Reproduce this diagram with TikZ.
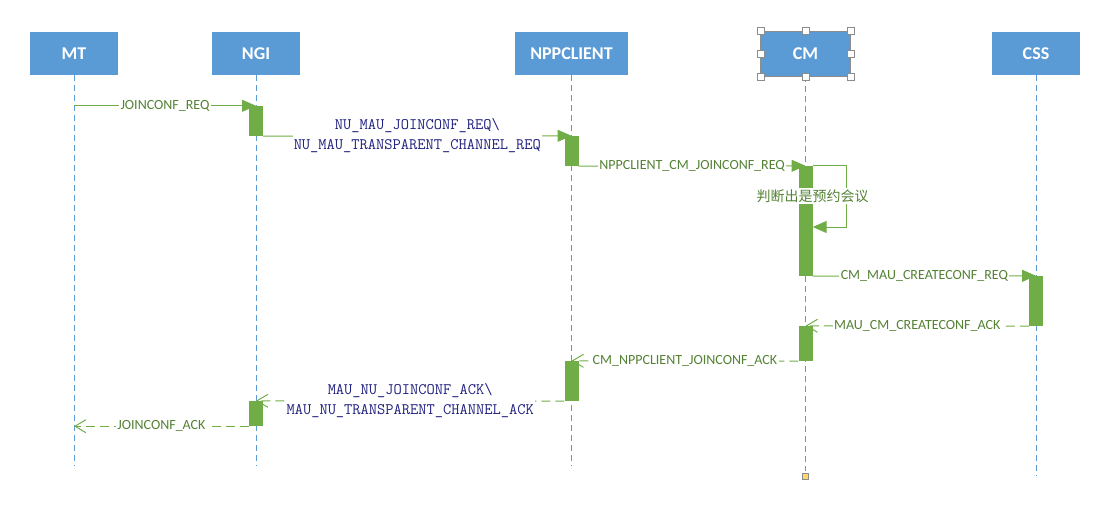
\documentclass[tikz,border=0pt]{standalone}
\usepackage{fontspec}
\setmainfont{Carlito}
\newfontfamily\cjkfont{Noto Sans CJK SC}
\usetikzlibrary{arrows.meta}

\definecolor{boxblue}{RGB}{91,155,213}
\definecolor{msggreen}{RGB}{112,173,71}
\definecolor{txtgreen}{RGB}{84,130,53}
\definecolor{codeblue}{RGB}{32,32,128}
\definecolor{handlegray}{RGB}{140,140,140}
\definecolor{markyellow}{RGB}{255,217,102}

\begin{document}
\begin{tikzpicture}[x=1pt,y=-1pt]
      \tikzset { actor/.style = { shape=rectangle,fill=boxblue,text=white,font=\fontsize{18}{21}\selectfont\bfseries,minimum width=88pt,minimum height=43pt,inner sep=0pt } }
      \tikzset { lifeline/.style = { boxblue,line width=0.8pt,dash pattern=on 6pt off 4pt } }
      \tikzset { bar/.style = { fill=msggreen,minimum width=14pt,inner sep=0pt } }
      \tikzset { call/.style = { msggreen,line width=1pt,-{Triangle[length=14pt,width=12pt]} } }
      \tikzset { reply/.style = { msggreen,line width=1pt,dash pattern=on 9pt off 5pt,-{Straight Barb[length=11pt,width=13pt]} } }
      \tikzset { lbl/.style = { fill=white,text=txtgreen,inner sep=1.5pt,font=\fontsize{14}{16}\selectfont } }
      \tikzset { code/.style = { fill=white,text=codeblue,inner sep=1pt,align=center,font=\ttfamily\fontsize{16}{20}\selectfont } }
      \tikzset { handle/.style = { draw=handlegray,fill=white,minimum size=7pt,inner sep=0pt } }

      \useasboundingbox (0,0) rectangle (1113,522);

      % participants
      \node[actor] (mt) at (74,53.5) {MT};
      \node[actor] (ngi) at (256,53.5) {NGI};
      \node[actor,minimum width=113pt] (npp) at (571.5,53.5) {NPPCLIENT};
      \node[actor,draw=handlegray,minimum width=90pt,minimum height=45pt] (cm) at (805.5,53.5) {CM};
      \node[actor] (css) at (1036,53.5) {CSS};

      % lifelines
      \coordinate (mt end) at (74,466);
      \coordinate (ngi end) at (256,466);
      \coordinate (npp end) at (571.5,466);
      \coordinate (cm end) at (805.5,471);
      \coordinate (css end) at (1036,476);
      \draw[lifeline] (mt) -- (mt end);
      \draw[lifeline] (ngi) -- (ngi end);
      \draw[lifeline] (npp) -- (npp end);
      \draw[lifeline] (cm) -- (cm end);
      \draw[lifeline] (css) -- (css end);

      % activations
      \node[bar,minimum height=30pt] (ngi1) at (256,121) {};
      \node[bar,minimum height=30pt] (npp1) at (571.5,151) {};
      \node[bar,minimum height=110pt] (cm1) at (805.5,221) {};
      \node[bar,minimum height=50pt] (css1) at (1036,301) {};
      \node[bar,minimum height=35pt] (cm2) at (805.5,343.5) {};
      \node[bar,minimum height=40pt] (npp2) at (571.5,381) {};
      \node[bar,minimum height=25pt] (ngi2) at (256,413.5) {};

      % requests
      \draw[call] (mt |- ngi1.north) -- (ngi1.north) node[midway,lbl] {JOINCONF\_REQ};
      \draw[call] (ngi1.south east) -- (npp1.north) node[midway,code] {NU\_MAU\_JOINCONF\_REQ\textbackslash\\NU\_MAU\_TRANSPARENT\_CHANNEL\_REQ};
      \draw[call] (npp1.south east) -- (cm1.north) node[midway,lbl] {NPPCLIENT\_CM\_JOINCONF\_REQ};
      \coordinate (cm loop) at (846,227);
      \draw[call] (cm1.north east) -| (cm loop) -- (cm loop -| cm1.east);
      \node[lbl,font=\cjkfont\fontsize{14}{16}\selectfont] (cm note) at (812.5,196) {判断出是预约会议};
      \draw[call] (cm1.south east) -- (css1.north) node[midway,lbl] {CM\_MAU\_CREATECONF\_REQ};

      % replies
      \draw[reply] (css1.south west) -- (cm2.north) node[midway,lbl] {MAU\_CM\_CREATECONF\_ACK};
      \draw[reply] (cm2.south west) -- (npp2.north) node[midway,lbl] {CM\_NPPCLIENT\_JOINCONF\_ACK};
      \draw[reply] (npp2.south west) -- (ngi2.north) node[midway,code] {MAU\_NU\_JOINCONF\_ACK\textbackslash\\MAU\_NU\_TRANSPARENT\_CHANNEL\_ACK};
      \draw[reply] (ngi2.south west) -- (mt |- ngi2.south) node[midway,lbl] {JOINCONF\_ACK};

      % selection handles on CM
      \foreach \p in {north west,north,north east,east,south east,south,south west,west}
        \node[handle] (cm handle \p) at (cm.\p) {};
      \node[handle,fill=markyellow,minimum size=6pt] (cm mark) at (805.5,476) {};

    \end{tikzpicture}
\end{document}
